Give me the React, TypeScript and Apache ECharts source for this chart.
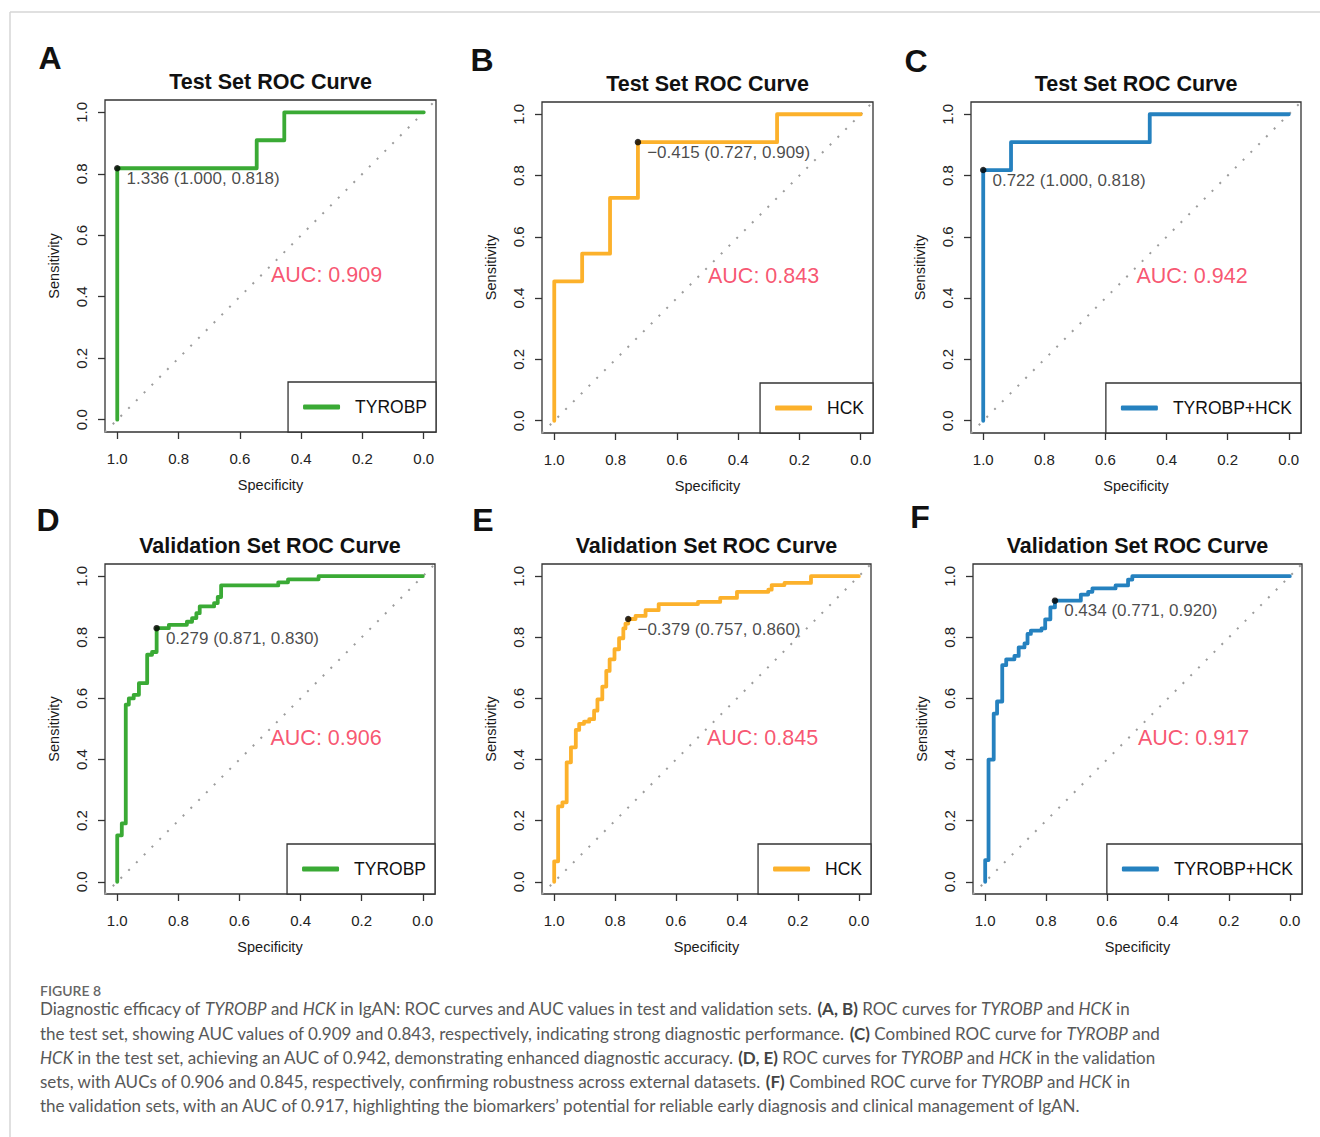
import React, { useEffect, useRef } from "react";
import * as echarts from "echarts";

const FONT = '"Liberation Sans", Arial, Helvetica, sans-serif';
const CAPTION_FONT = 'Lato, "Open Sans", sans-serif';

// ---------- data ----------
const panelLetters = ["A", "B", "C", "D", "E", "F"];
const panelTitles = [
  "Test Set ROC Curve",
  "Test Set ROC Curve",
  "Test Set ROC Curve",
  "Validation Set ROC Curve",
  "Validation Set ROC Curve",
  "Validation Set ROC Curve",
];
const markerNames = ["TYROBP", "HCK", "TYROBP+HCK", "TYROBP", "HCK", "TYROBP+HCK"];
const aucValues = ["0.909", "0.843", "0.942", "0.906", "0.845", "0.917"];
const thresholdLabels = [
  "1.336 (1.000, 0.818)",
  "\u22120.415 (0.727, 0.909)",
  "0.722 (1.000, 0.818)",
  "0.279 (0.871, 0.830)",
  "\u22120.379 (0.757, 0.860)",
  "0.434 (0.771, 0.920)",
];
const thresholdSpec = [1.0, 0.727, 1.0, 0.871, 0.757, 0.771];
const thresholdSens = [0.818, 0.909, 0.818, 0.83, 0.86, 0.92];
const tickValues = [0, 0.2, 0.4, 0.6, 0.8, 1.0];
const tickLabels = ["0.0", "0.2", "0.4", "0.6", "0.8", "1.0"];
const diagonalSpec = [1.04, -0.04];
const diagonalSens = [-0.04, 1.04];
const aucAnchorSpec = 0.5;
const aucAnchorSens = 0.5;

// ROC curves: specificity at which each rise happens, and sensitivity reached
const riseSpecA = [1.0, 0.545, 0.455];
const riseSensA = [0.818, 0.909, 1.0];
const riseSpecB = [1.0, 0.909, 0.818, 0.727, 0.273];
const riseSensB = [0.455, 0.545, 0.727, 0.909, 1.0];
const riseSpecC = [1.0, 0.909, 0.455];
const riseSensC = [0.818, 0.909, 1.0];
const riseSpecD = [1.0, 0.985, 0.972, 0.962, 0.946, 0.929, 0.902, 0.886, 0.871, 0.831, 0.772, 0.755, 0.741, 0.73, 0.683, 0.671, 0.66, 0.473, 0.441, 0.341];
const riseSensD = [0.152, 0.191, 0.58, 0.6, 0.612, 0.65, 0.743, 0.752, 0.83, 0.841, 0.851, 0.863, 0.879, 0.901, 0.912, 0.932, 0.97, 0.98, 0.99, 1.0];
const riseSpecE = [1.0, 0.987, 0.973, 0.959, 0.945, 0.929, 0.918, 0.902, 0.885, 0.869, 0.858, 0.842, 0.829, 0.818, 0.802, 0.787, 0.773, 0.766, 0.757, 0.733, 0.7, 0.657, 0.528, 0.455, 0.4, 0.297, 0.286, 0.244, 0.157];
const riseSensE = [0.067, 0.247, 0.26, 0.391, 0.44, 0.497, 0.517, 0.524, 0.532, 0.56, 0.597, 0.639, 0.69, 0.728, 0.761, 0.797, 0.829, 0.845, 0.86, 0.87, 0.889, 0.909, 0.916, 0.929, 0.949, 0.956, 0.971, 0.978, 1.0];
const riseSpecF = [1.0, 0.989, 0.972, 0.961, 0.944, 0.931, 0.904, 0.89, 0.871, 0.861, 0.85, 0.815, 0.803, 0.786, 0.771, 0.686, 0.662, 0.648, 0.572, 0.531, 0.517];
const riseSensF = [0.071, 0.4, 0.55, 0.59, 0.709, 0.728, 0.739, 0.767, 0.78, 0.811, 0.822, 0.829, 0.859, 0.898, 0.92, 0.94, 0.949, 0.96, 0.97, 0.989, 1.0];

const riseSpecs = [riseSpecA, riseSpecB, riseSpecC, riseSpecD, riseSpecE, riseSpecF];
const riseSenss = [riseSensA, riseSensB, riseSensC, riseSensD, riseSensE, riseSensF];

const captionHeading = "FIGURE 8";
const captionLines: [string, string][][] = [
  [["n", "Diagnostic efficacy of "], ["i", "TYROBP"], ["n", " and "], ["i", "HCK"], ["n", " in IgAN: ROC curves and AUC values in test and validation sets. "], ["b", "(A, B)"], ["n", " ROC curves for "], ["i", "TYROBP"], ["n", " and "], ["i", "HCK"], ["n", " in"]],
  [["n", "the test set, showing AUC values of 0.909 and 0.843, respectively, indicating strong diagnostic performance. "], ["b", "(C)"], ["n", " Combined ROC curve for "], ["i", "TYROBP"], ["n", " and"]],
  [["i", "HCK"], ["n", " in the test set, achieving an AUC of 0.942, demonstrating enhanced diagnostic accuracy. "], ["b", "(D, E)"], ["n", " ROC curves for "], ["i", "TYROBP"], ["n", " and "], ["i", "HCK"], ["n", " in the validation"]],
  [["n", "sets, with AUCs of 0.906 and 0.845, respectively, confirming robustness across external datasets. "], ["b", "(F)"], ["n", " Combined ROC curve for "], ["i", "TYROBP"], ["n", " and "], ["i", "HCK"], ["n", " in"]],
  [["n", "the validation sets, with an AUC of 0.917, highlighting the biomarkers\u2019 potential for reliable early diagnosis and clinical management of IgAN."]],
];

// ---------- layout / style ----------
const W = 1320;
const H = 1137;
const layout = [
  { left: 105, top: 100, width: 331, height: 332 },
  { left: 542, top: 102, width: 331, height: 331 },
  { left: 971, top: 102, width: 330, height: 331 },
  { left: 105, top: 564, width: 330, height: 330 },
  { left: 542, top: 564, width: 329, height: 330 },
  { left: 973, top: 564, width: 329, height: 330 },
];
const letterPos = [
  [50, 58],
  [482, 60],
  [916, 61],
  [48, 520],
  [483, 520],
  [920, 517],
];
const curveColors = ["#3AAA35", "#FCB12B", "#2581BF", "#3AAA35", "#FCB12B", "#2581BF"];
const aucColor = "#F52A4C";
const boxColor = "#333333";
const captionLineY = [1008.5, 1033, 1057, 1081, 1105];

function stepPath(spec: number[], sens: number[]) {
  const pts: number[][] = [[spec[0], 0]];
  for (let i = 0; i < spec.length; i++) {
    pts.push([spec[i], sens[i]]);
    const nextSpec = i + 1 < spec.length ? spec[i + 1] : 0;
    pts.push([nextSpec, sens[i]]);
  }
  return pts;
}

function tickLabel(v: number) {
  const idx = tickValues.findIndex((t) => Math.abs(t - v) < 1e-9);
  return idx >= 0 ? tickLabels[idx] : "";
}

function buildOption() {
  const grid: any[] = [];
  const xAxis: any[] = [];
  const yAxis: any[] = [];
  const series: any[] = [];
  const legend: any[] = [];
  const graphic: any[] = [];

  layout.forEach((l, i) => {
    grid.push({
      left: l.left,
      top: l.top,
      width: l.width,
      height: l.height,
      show: true,
      borderColor: boxColor,
      borderWidth: 1.3,
      backgroundColor: "rgba(0,0,0,0)",
      containLabel: false,
    });
    const commonAxis = {
      type: "value",
      gridIndex: i,
      min: -0.04,
      max: 1.04,
      axisLine: { show: false, onZero: false },
      axisTick: {
        show: true,
        inside: false,
        length: 7,
        customValues: tickValues,
        lineStyle: { color: boxColor, width: 1.3 },
      },
      splitLine: { show: false },
      nameLocation: "middle",
      nameTextStyle: { fontSize: 14.5, color: "#1a1a1a", fontFamily: FONT },
    };
    xAxis.push({
      ...commonAxis,
      inverse: true,
      position: "bottom",
      name: "Specificity",
      nameGap: 45,
      axisLabel: {
        customValues: tickValues,
        formatter: (v: number) => tickLabel(v),
        margin: 19,
        fontSize: 15,
        color: "#222",
        fontFamily: FONT,
      },
    });
    yAxis.push({
      ...commonAxis,
      position: "left",
      name: "Sensitivity",
      nameGap: 44,
      nameRotate: 90,
      axisLabel: {
        customValues: tickValues,
        formatter: (v: number) => tickLabel(v),
        margin: 16,
        rotate: 90,
        fontSize: 15,
        color: "#222",
        fontFamily: FONT,
      },
    });

    // diagonal reference line
    series.push({
      type: "line",
      xAxisIndex: i,
      yAxisIndex: i,
      data: diagonalSpec.map((s, k) => [s, diagonalSens[k]]),
      symbol: "none",
      silent: true,
      z: 1,
      lineStyle: { color: "#9c9c9c", width: 2, type: [2, 9], cap: "butt" },
    });
    // ROC curve
    series.push({
      type: "line",
      name: markerNames[i],
      xAxisIndex: i,
      yAxisIndex: i,
      data: stepPath(riseSpecs[i], riseSenss[i]),
      symbol: "none",
      silent: true,
      z: 3,
      color: curveColors[i],
      itemStyle: { color: curveColors[i] },
      lineStyle: { color: curveColors[i], width: 3.8, join: "round", cap: "round" },
    });
    // best threshold point
    series.push({
      type: "scatter",
      xAxisIndex: i,
      yAxisIndex: i,
      data: [[thresholdSpec[i], thresholdSens[i]]],
      symbolSize: 6.5,
      silent: true,
      z: 5,
      itemStyle: { color: "#000" },
      label: {
        show: true,
        formatter: thresholdLabels[i],
        position: "right",
        distance: 6,
        offset: [0, 10],
        fontSize: 17,
        color: "#1a1a1a",
        fontFamily: FONT,
      },
    });
    // AUC annotation
    series.push({
      type: "scatter",
      xAxisIndex: i,
      yAxisIndex: i,
      data: [[aucAnchorSpec, aucAnchorSens]],
      symbolSize: 1,
      silent: true,
      z: 5,
      itemStyle: { color: "rgba(0,0,0,0)" },
      label: {
        show: true,
        formatter: "AUC: " + aucValues[i],
        position: "right",
        distance: 0,
        offset: [0, 8.5],
        fontSize: 21.5,
        color: aucColor,
        fontFamily: FONT,
      },
    });

    legend.push({
      show: true,
      data: [markerNames[i]],
      selectedMode: false,
      right: W - (l.left + l.width),
      bottom: H - (l.top + l.height),
      orient: "horizontal",
      padding: [16, 9, 16, 15],
      itemWidth: 37,
      itemHeight: 5,
      icon: "roundRect",
      borderColor: boxColor,
      borderWidth: 1.3,
      borderRadius: 0,
      backgroundColor: "#fff",
      textStyle: { fontSize: 17.5, color: "#111", fontFamily: FONT, padding: [0, 0, 0, 10] },
    });

    graphic.push({
      type: "text",
      x: l.left + l.width / 2,
      y: l.top - 18,
      style: {
        text: panelTitles[i],
        fontSize: 21.5,
        fontWeight: "bold",
        fontFamily: FONT,
        fill: "#111",
        align: "center",
        verticalAlign: "middle",
      },
    });
    graphic.push({
      type: "text",
      x: letterPos[i][0],
      y: letterPos[i][1],
      style: {
        text: panelLetters[i],
        fontSize: 32,
        fontWeight: "bold",
        fontFamily: FONT,
        fill: "#111",
        align: "center",
        verticalAlign: "middle",
      },
    });
  });

  // card border (top + left)
  graphic.push({
    type: "line",
    shape: { x1: 10, y1: 12, x2: W, y2: 12 },
    style: { stroke: "#d6d6d6", lineWidth: 1.5 },
  });
  graphic.push({
    type: "line",
    shape: { x1: 10, y1: 12, x2: 10, y2: H },
    style: { stroke: "#d6d6d6", lineWidth: 1.5 },
  });

  // caption
  const rich = {
    n: { fontSize: 17, fontFamily: CAPTION_FONT, fill: "#585858", color: "#585858" },
    i: { fontSize: 17, fontFamily: CAPTION_FONT, fontStyle: "italic", fill: "#585858", color: "#585858" },
    b: { fontSize: 17, fontFamily: CAPTION_FONT, fontWeight: "bold", fill: "#444", color: "#444" },
  };
  graphic.push({
    type: "text",
    x: 40,
    y: 990,
    style: {
      text: captionHeading,
      fontSize: 14,
      fontWeight: 600,
      fontFamily: CAPTION_FONT,
      fill: "#666",
      align: "left",
      verticalAlign: "middle",
    },
  });
  captionLines.forEach((segs, k) => {
    graphic.push({
      type: "text",
      x: 40,
      y: captionLineY[k],
      style: {
        text: segs.map(([s, t]) => `{${s}|${t}}`).join(""),
        rich,
        align: "left",
        verticalAlign: "middle",
      },
    });
  });

  return {
    animation: false,
    backgroundColor: "#fff",
    textStyle: { fontFamily: FONT },
    grid,
    xAxis,
    yAxis,
    legend,
    series,
    graphic,
  };
}

export default function App() {
  const ref = useRef<HTMLDivElement>(null);
  useEffect(() => {
    if (!ref.current) return;
    const chart = echarts.init(ref.current, null, { renderer: "svg" });
    chart.setOption(buildOption() as any);
    return () => chart.dispose();
  }, []);
  return (
    <div
      ref={ref}
      style={{ position: "absolute", left: 0, top: 0, width: W, height: H, background: "#fff" }}
    />
  );
}
